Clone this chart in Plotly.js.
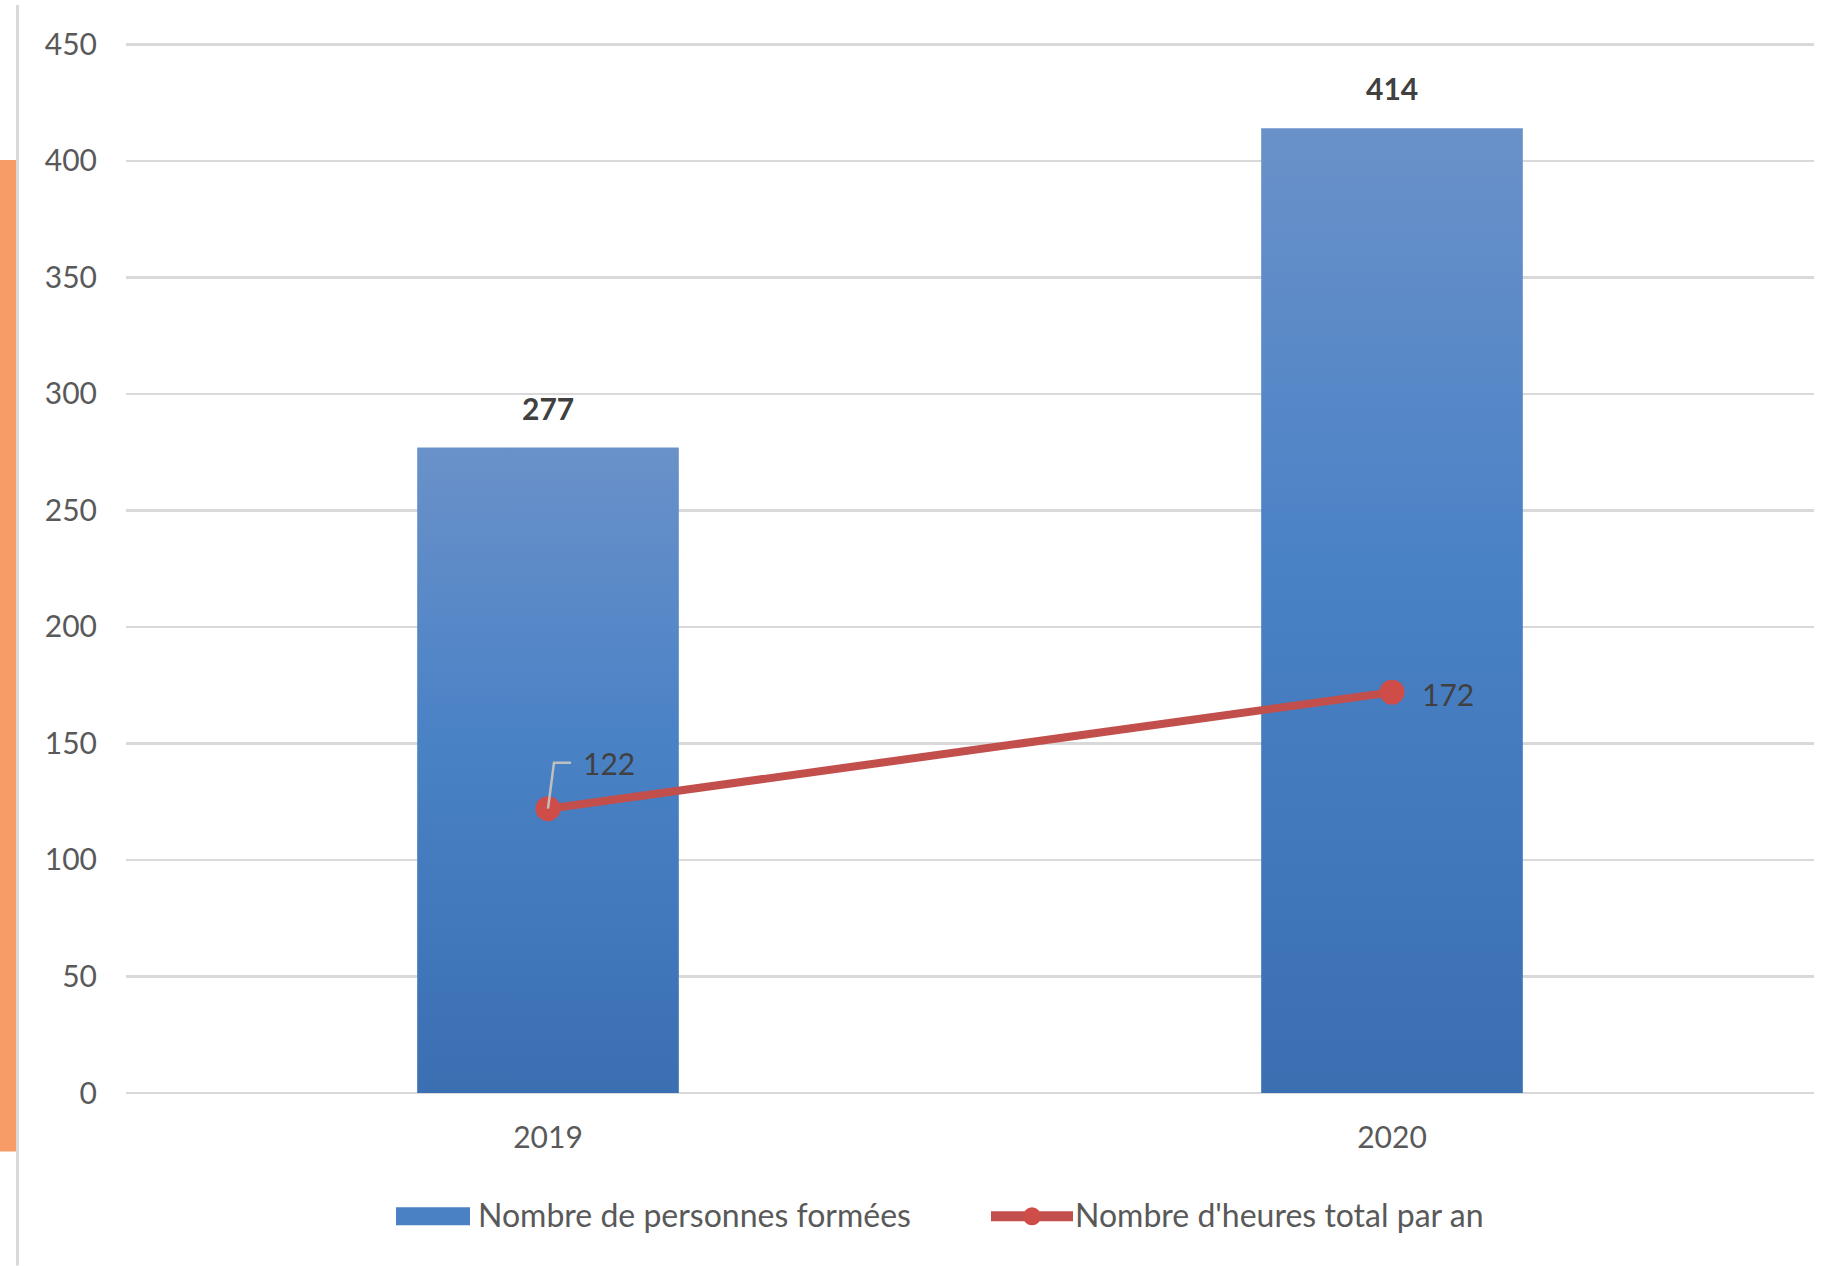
<!DOCTYPE html>
<html>
<head>
<meta charset="utf-8">
<script src="https://cdn.plot.ly/plotly-3.0.1.min.js"></script>
<style>
html,body{margin:0;padding:0;background:#fff;}
#chart{width:1828px;height:1266px;}
</style>
</head>
<body>
<div id="chart"></div>
<script>
const years = ['2019', '2020'];
const personnes = [277, 414];
const heures = [122, 172];
const seriesNames = ['Nombre de personnes formées', "Nombre d'heures total par an"];
const yTicks = [0, 50, 100, 150, 200, 250, 300, 350, 400, 450];

const FONT = 'Lato, "Open Sans", sans-serif';

const barTrace = {
  type: 'bar',
  x: years,
  y: personnes,
  name: seriesNames[0],
  width: 0.31,
  marker: {color: '#4A7FC3', line: {width: 0}},
  hoverinfo: 'skip'
};

const lineTrace = {
  type: 'scatter',
  mode: 'lines+markers',
  x: years,
  y: heures,
  name: seriesNames[1],
  line: {color: '#C24F4B', width: 8},
  marker: {color: '#CF4D48', size: 25},
  hoverinfo: 'skip'
};

const annotations = [];
years.forEach((yr, i) => {
  annotations.push({
    x: i, y: personnes[i], xref: 'x', yref: 'y',
    text: '<b>' + personnes[i] + '</b>',
    showarrow: false, yanchor: 'bottom', yshift: 20,
    font: {family: FONT, size: 30, color: '#404040'}
  });
});
annotations.push({
  x: 0, y: heures[0], xref: 'x', yref: 'y',
  text: String(heures[0]),
  showarrow: false, xanchor: 'left', yanchor: 'middle', xshift: 33, yshift: 46,
  font: {family: FONT, size: 30, color: '#404040'}
});
annotations.push({
  x: 1, y: heures[1], xref: 'x', yref: 'y',
  text: String(heures[1]),
  showarrow: false, xanchor: 'left', xshift: 28, yshift: -2,
  font: {family: FONT, size: 30, color: '#404040'}
});

const shapes = [
  {type: 'rect', xref: 'paper', yref: 'paper',
   x0: -126/1688, x1: -110/1688,
   y0: (1093.5-1152)/1050.5, y1: (1093.5-160)/1050.5,
   fillcolor: '#F79C66', line: {width: 0}, layer: 'below'},
  {type: 'line', xref: 'paper', yref: 'paper',
   x0: -108.5/1688, x1: -108.5/1688,
   y0: (1093.5-1266)/1050.5, y1: (1093.5-5)/1050.5,
   line: {color: '#D9D9D9', width: 3}, layer: 'below'},
  {type: 'path', xref: 'x', yref: 'y', xsizemode: 'pixel', ysizemode: 'pixel',
   xanchor: 0, yanchor: heures[0],
   path: 'M0,0 L6,46 L23,46',
   line: {color: '#BFBFBF', width: 2.5}, fillcolor: 'rgba(0,0,0,0)', layer: 'above'}
];

const layout = {
  width: 1828, height: 1266,
  margin: {l: 126, r: 14, t: 43, b: 172.5, pad: 0},
  paper_bgcolor: '#ffffff', plot_bgcolor: '#ffffff',
  font: {family: FONT, size: 30, color: '#595959'},
  showlegend: true,
  legend: {
    orientation: 'h', x: 0.484, xanchor: 'center', y: -0.1157, yanchor: 'middle',
    font: {family: FONT, size: 32, color: '#595959'},
    itemwidth: 80, traceorder: 'normal', bgcolor: 'rgba(0,0,0,0)'
  },
  xaxis: {
    type: 'category', range: [-0.5, 1.5],
    showgrid: false, zeroline: false, showline: false, ticks: '',
    tickfont: {family: FONT, size: 30, color: '#595959'},
    ticklabelstandoff: 24, fixedrange: true
  },
  yaxis: {
    range: [0, 450.6], tickvals: yTicks, ticktext: yTicks.map(String),
    showgrid: true, gridcolor: '#D9D9D9', gridwidth: 2.5,
    zeroline: true, zerolinecolor: '#D9D9D9', zerolinewidth: 2.5,
    showline: false, ticks: '',
    tickfont: {family: FONT, size: 30, color: '#595959'},
    ticklabelstandoff: 28, fixedrange: true
  },
  annotations: annotations,
  shapes: shapes,
  bargap: 0.69
};

function toLocal(el, cx, cy) {
  const svg = el.ownerSVGElement;
  const pt = svg.createSVGPoint();
  pt.x = cx; pt.y = cy;
  return pt.matrixTransform(el.getScreenCTM().inverse());
}

Plotly.newPlot('chart', [barTrace, lineTrace], layout, {displayModeBar: false, staticPlot: true}).then(gd => {
  const svg = gd.querySelector('svg.main-svg');
  const ns = 'http://www.w3.org/2000/svg';
  let defs = svg.querySelector('defs');
  if (!defs) { defs = document.createElementNS(ns, 'defs'); svg.insertBefore(defs, svg.firstChild); }
  const mkGrad = (id) => {
    const grad = document.createElementNS(ns, 'linearGradient');
    grad.setAttribute('id', id);
    grad.setAttribute('x1', '0'); grad.setAttribute('y1', '0');
    grad.setAttribute('x2', '0'); grad.setAttribute('y2', '1');
    [['0', '#6A91C9'], ['0.45', '#4A82C6'], ['1', '#3A6FB2']].forEach(([o, c]) => {
      const s = document.createElementNS(ns, 'stop');
      s.setAttribute('offset', o); s.setAttribute('stop-color', c);
      grad.appendChild(s);
    });
    defs.appendChild(grad);
  };
  mkGrad('barGrad');
  gd.querySelectorAll('.barlayer .point path').forEach(p => { p.style.fill = 'url(#barGrad)'; });

  // legend: remove clipping, place text starts, draw wide Excel-like symbols
  gd.querySelectorAll('.legend [clip-path]').forEach(e => e.removeAttribute('clip-path'));
  const targets = [478, 1075];
  const groups = gd.querySelectorAll('.legend .traces');
  groups.forEach((g, i) => {
    const txt = g.querySelector('.legendtext');
    if (!txt) return;
    const r = txt.getBoundingClientRect();
    const dx = targets[i] - r.left;
    const tr = g.getAttribute('transform') || '';
    const m = tr.match(/translate\(\s*([-\d.eE]+)[ ,]+([-\d.eE]+)\s*\)/);
    if (m) g.setAttribute('transform', 'translate(' + (parseFloat(m[1]) + dx) + ',' + m[2] + ')');
    const r2 = txt.getBoundingClientRect();
    const cy = r2.top + r2.height / 2 + 2;
    if (i === 0) {
      const bar = g.querySelector('.legendpoints path');
      if (bar) {
        bar.removeAttribute('transform');
        const a = toLocal(bar, r2.left - 8 - 74, cy - 9);
        const b = toLocal(bar, r2.left - 8, cy + 9);
        bar.setAttribute('d', 'M' + a.x + ',' + a.y + 'H' + b.x + 'V' + b.y + 'H' + a.x + 'Z');
        bar.style.fill = '#4A80C4';
        bar.style.stroke = 'none';
      }
    } else {
      const ln = g.querySelector('.legendlines path');
      if (ln) {
        const a = toLocal(ln, r2.left - 2 - 82, cy);
        const b = toLocal(ln, r2.left - 2, cy);
        ln.setAttribute('d', 'M' + a.x + ',' + a.y + 'L' + b.x + ',' + b.y);
        ln.style.strokeWidth = '10px';
      }
      const mk = g.querySelector('.legendpoints path');
      if (mk) {
        const c = toLocal(mk.parentNode, r2.left - 2 - 41, cy);
        mk.setAttribute('transform', 'translate(' + c.x + ',' + c.y + ')');
        mk.setAttribute('d', 'M9,0A9,9 0 1,1 0,-9A9,9 0 0,1 9,0Z');
      }
    }
  });
});
</script>
</body>
</html>
